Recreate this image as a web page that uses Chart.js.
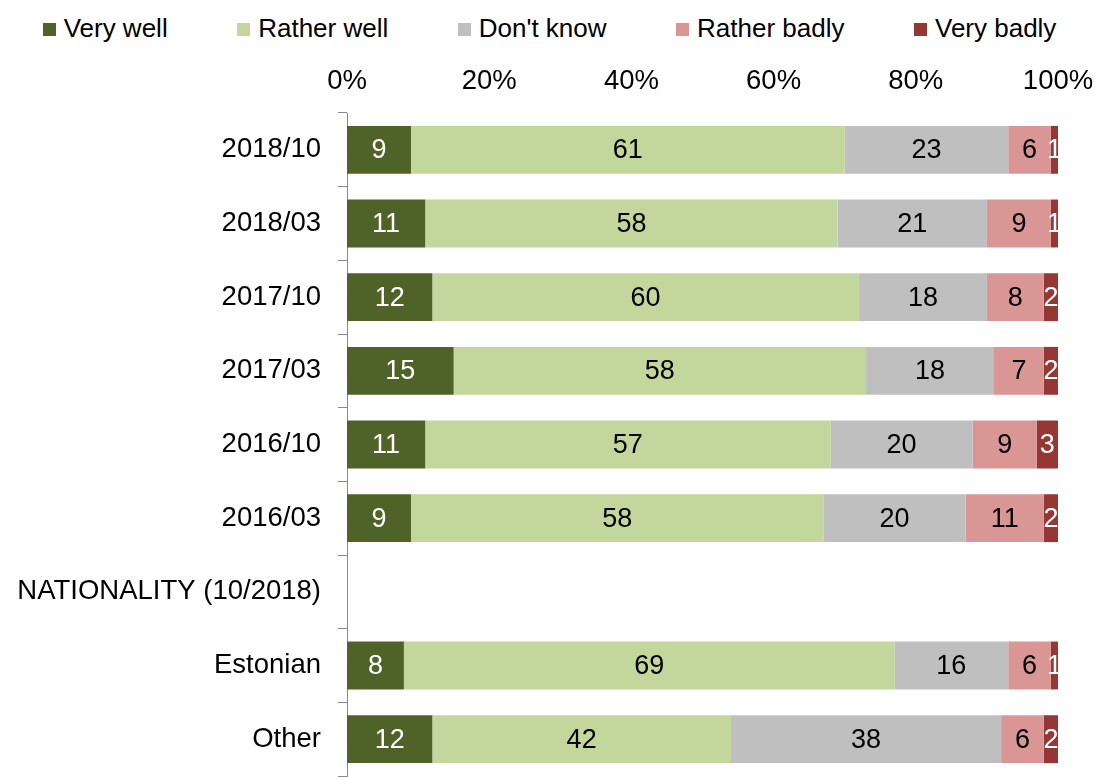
<!DOCTYPE html>
<html>
<head>
<meta charset="utf-8">
<script src="https://cdn.jsdelivr.net/npm/chart.js@4"></script>
<style>
    html, body { margin: 0; padding: 0; background: #fff; overflow: hidden; }
    #wrap { position: relative; width: 1099px; height: 777px; overflow: hidden; }
    #legend {
        position: absolute; left: 0; top: 13px; width: 1099px;
        display: flex; justify-content: center; gap: 69.5px;
        font-family: "Liberation Sans", Arial, sans-serif; font-size: 26px; color: #000;
    }
    #legend span.item { display: flex; align-items: center; white-space: nowrap; }
    #legend span.box { display: inline-block; width: 13px; height: 13px; margin-right: 8px; margin-top: 2px; }
    canvas { position: absolute; left: 0; top: 0; }
</style>
</head>
<body>
<div id="wrap">
    <div id="legend"></div>
    <canvas id="barChart" width="1099" height="777"></canvas>
</div>
<script>
// Survey rows (the NATIONALITY row is a group heading, left empty)
var categories = ['2018/10', '2018/03', '2017/10', '2017/03', '2016/10', '2016/03',
                  'NATIONALITY (10/2018)', 'Estonian', 'Other'];

var seriesNames = ['Very well', 'Rather well', "Don't know", 'Rather badly', 'Very badly'];
var seriesColors = ['#4F6228', '#C3D69B', '#BFBFBF', '#D99694', '#953735'];
var labelColors = ['#fff', '#000', '#000', '#000', '#fff'];

var veryWell    = [9, 11, 12, 15, 11, 9, null, 8, 12];
var ratherWell  = [61, 58, 60, 58, 57, 58, null, 69, 42];
var dontKnow    = [23, 21, 18, 18, 20, 20, null, 16, 38];
var ratherBadly = [6, 9, 8, 7, 9, 11, null, 6, 6];
var veryBadly   = [1, 1, 2, 2, 3, 2, null, 1, 2];

var tickValues = [0, 20, 40, 60, 80, 100];

var FONT = '"Liberation Sans", Arial, sans-serif';
var seriesData = [veryWell, ratherWell, dontKnow, ratherBadly, veryBadly];

// legend built as html so the item spacing can be set freely
var legendEl = document.getElementById('legend');
seriesNames.forEach(function (name, i) {
    var item = document.createElement('span');
    item.className = 'item';
    var box = document.createElement('span');
    box.className = 'box';
    box.style.background = seriesColors[i];
    item.appendChild(box);
    item.appendChild(document.createTextNode(name));
    legendEl.appendChild(item);
});

// write the value in the middle of every segment
var valueLabels = {
    id: 'valueLabels',
    afterDatasetsDraw: function (chart) {
        var ctx = chart.ctx;
        ctx.save();
        ctx.font = '27px ' + FONT;
        ctx.textAlign = 'center';
        ctx.textBaseline = 'middle';
        chart.data.datasets.forEach(function (ds, i) {
            var meta = chart.getDatasetMeta(i);
            meta.data.forEach(function (bar, j) {
                var v = ds.data[j];
                if (v === null || v === undefined) return;
                ctx.fillStyle = labelColors[i];
                ctx.fillText(String(v), (bar.x + bar.base) / 2, bar.y + 1);
            });
        });
        ctx.restore();
    }
};

var ctxBar = document.getElementById('barChart').getContext('2d');
var barChart = new Chart(ctxBar, {
    type: 'bar',
    data: {
        labels: categories,
        datasets: seriesNames.map(function (name, i) {
            return {
                label: name,
                data: seriesData[i],
                backgroundColor: seriesColors[i],
                borderWidth: 0,
                categoryPercentage: 1,
                barPercentage: 0.65
            };
        })
    },
    plugins: [valueLabels],
    options: {
        indexAxis: 'y',
        responsive: false,
        animation: false,
        layout: {
            padding: { top: 50, right: 41, bottom: 1, left: 0 }
        },
        plugins: {
            legend: { display: false },
            tooltip: { enabled: false }
        },
        scales: {
            x: {
                position: 'top',
                stacked: true,
                min: 0,
                max: 100,
                afterBuildTicks: function (scale) {
                    scale.ticks = tickValues.map(function (v) { return { value: v }; });
                },
                afterFit: function (scale) {
                    scale.paddingLeft = 0;
                    scale.paddingRight = 0;
                },
                grid: { display: false, drawTicks: false },
                border: { display: false },
                ticks: {
                    padding: 15,
                    color: '#000',
                    font: { family: FONT, size: 27.5 },
                    maxRotation: 0,
                    callback: function (v) { return v + '%'; }
                }
            },
            y: {
                stacked: true,
                afterFit: function (scale) {
                    scale.width = 347;
                    scale.paddingTop = 0;
                    scale.paddingBottom = 0;
                },
                grid: {
                    drawOnChartArea: false,
                    drawTicks: true,
                    tickLength: 9,
                    color: '#898989',
                    lineWidth: 1
                },
                border: { display: true, color: '#898989', width: 1 },
                ticks: {
                    padding: 17,
                    color: '#000',
                    font: { family: FONT, size: 27.5 }
                }
            }
        }
    }
});
</script>
</body>
</html>
